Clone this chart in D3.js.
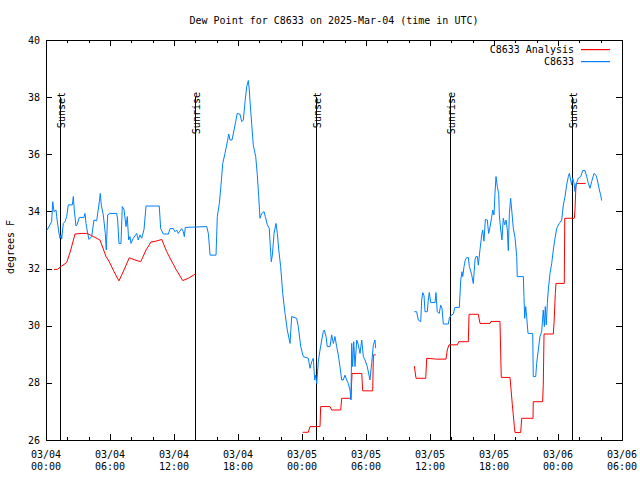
<!DOCTYPE html>
<html>
<head>
<meta charset="utf-8">
<script src="https://cdn.jsdelivr.net/npm/d3@7"></script>
<style>
  html, body { margin: 0; padding: 0; background: #fff; }
  svg { display: block; }
  text { font-family: "DejaVu Sans Mono", "Liberation Mono", monospace; font-size: 10px; fill: #000; }
</style>
</head>
<body>
<svg id="chart" width="640" height="480"></svg>
<script>
// ---------------- DATA ----------------
const chartTitle = "Dew Point for C8633 on 2025-Mar-04 (time in UTC)";
const yLabel = "degrees F";
const seriesNames = ["C8633 Analysis", "C8633"];
const seriesColors = ["#ff0000", "#0080ff"];
const startTime = Date.UTC(2025, 2, 4, 0, 0);   // 03/04 00:00 UTC
const endTime = Date.UTC(2025, 2, 6, 6, 0);     // 03/06 06:00 UTC
const yTicks = [26, 28, 30, 32, 34, 36, 38, 40];

// Sunrise / sunset events (hours after 03/04 00:00 UTC)
const sunLabels = ["Sunset", "Sunrise", "Sunset", "Sunrise", "Sunset"];
const sunHours = [1.31, 14.0, 25.31, 37.88, 49.31];

// Analysis series (hours after start, degrees F); null = gap
const analysisHours = [
  0.75,1.06,1.47,1.94,2.32,2.72,3.35,3.82,4.13,4.59,5.06,5.63,5.93,6.38,6.84,7.31,7.81,8.34,8.88,9.38,9.84,10.31,10.85,11.32,11.72,12.19,12.82,13.34,13.88,13.97,
  19.0,
  24.06,24.59,24.75,25.69,25.75,26.63,26.78,27.63,27.72,28.59,28.69,29.60,29.69,30.63,30.69,30.91,
  32.5,
  34.53,34.69,35.60,35.69,36.63,37.50,37.62,37.78,38.56,38.69,39.59,39.66,40.53,40.69,41.63,41.72,42.56,42.68,43.50,43.72,43.91,43.97,44.50,44.60,45.66,45.68,46.56,46.62,46.69,47.56,47.63,47.75,47.81,48.59,48.63,49.53,49.59,49.69,50.60
];
const analysisValues = [
  31.97,31.97,32.09,32.21,32.65,33.21,33.23,33.23,33.18,33.09,33.00,32.42,32.24,31.89,31.57,31.95,32.38,32.30,32.24,32.65,32.93,32.96,33.02,32.59,32.30,31.97,31.58,31.66,31.78,31.80,
  null,
  26.27,26.27,26.47,26.47,27.17,27.17,27.05,27.05,27.46,27.46,28.33,28.33,27.72,27.72,28.98,28.98,
  null,
  28.59,28.16,28.16,28.86,28.83,28.83,29.15,29.33,29.33,29.44,29.44,30.40,30.40,30.08,30.08,30.15,30.15,28.19,28.19,27.23,26.47,26.26,26.26,26.76,26.76,27.34,27.34,27.93,29.71,29.71,30.11,31.13,31.48,31.48,33.76,33.76,34.05,34.98,34.98
];

// Observed series (hours after start, degrees F); null = gap
const observedHours = [
  0.07,0.53,0.63,0.75,0.94,1.00,1.22,1.31,1.41,1.47,1.62,1.78,1.94,2.09,2.47,2.56,2.65,2.81,2.93,3.12,3.56,3.66,3.75,3.91,4.03,4.28,4.50,4.75,5.00,5.09,5.18,5.37,5.56,5.65,5.78,6.00,6.63,6.72,6.84,7.03,7.15,7.31,7.50,7.62,7.75,7.87,7.97,8.18,8.50,8.65,8.81,8.97,9.19,9.38,10.62,10.75,11.00,11.47,11.63,11.93,12.09,12.25,12.40,12.72,12.87,12.97,13.06,
  15.07,15.22,15.38,15.94,16.06,16.25,16.41,16.57,16.78,17.00,17.13,17.25,17.44,17.63,17.78,17.93,18.19,18.35,18.50,18.66,18.82,18.97,19.06,19.13,19.28,19.43,19.66,19.81,19.94,20.06,20.22,20.44,20.56,20.75,20.93,21.03,21.12,21.22,21.38,21.56,21.69,21.82,22.00,22.19,22.41,22.62,22.88,23.03,23.50,23.65,23.88,24.12,24.59,24.75,24.91,25.06,25.19,25.28,25.38,25.53,25.69,25.85,26.00,26.09,26.25,26.37,26.63,26.78,26.94,27.09,27.25,27.40,27.56,27.72,27.87,28.03,28.19,28.34,28.50,28.59,28.66,28.75,28.85,28.97,29.13,29.28,29.44,29.60,29.75,29.91,30.12,30.37,30.53,30.69,30.84,30.91,
  32.5,
  34.53,34.75,34.90,35.13,35.22,35.32,35.44,35.53,35.75,35.84,35.93,36.07,36.47,36.56,36.68,36.87,37.00,37.13,37.25,37.72,37.81,37.94,38.18,38.34,38.75,38.88,39.00,39.07,39.19,39.31,39.44,39.59,39.69,39.91,40.06,40.22,40.31,40.44,40.53,40.69,40.85,40.94,41.06,41.19,41.37,41.50,41.63,41.78,41.88,42.00,42.09,42.19,42.31,42.44,42.50,42.63,42.75,42.87,43.00,43.13,43.25,43.34,43.44,43.56,43.66,43.81,43.97,44.13,44.18,44.75,44.81,44.88,44.97,45.06,45.19,45.63,45.68,45.91,46.00,46.15,46.31,46.47,46.62,46.72,46.81,46.90,47.00,47.09,47.25,47.41,47.56,47.72,47.88,48.12,48.35,48.50,48.66,48.81,48.97,49.06,49.19,49.28,49.38,49.50,49.59,49.75,49.90,50.13,50.32,50.53,50.69,50.85,51.00,51.16,51.38,51.56,51.69,51.88,52.00,52.09
];
const observedValues = [
  33.33,33.64,34.34,33.99,34.05,33.82,33.23,33.06,33.18,33.03,33.58,33.64,33.82,34.23,34.23,34.52,34.05,33.49,33.55,33.79,33.79,33.93,33.58,33.23,33.02,33.12,33.70,33.67,34.34,34.63,34.23,33.88,33.23,32.65,33.88,33.93,33.93,33.70,32.88,32.88,34.17,34.08,33.47,33.82,33.00,33.12,32.88,33.06,33.23,33.00,33.18,33.06,33.37,34.19,34.19,33.40,33.21,33.21,33.40,33.40,33.29,33.35,33.23,33.40,33.29,33.12,33.44,
  33.47,33.23,32.47,32.47,33.82,34.28,34.93,35.68,36.03,36.44,36.71,36.50,36.50,36.85,37.14,37.43,37.40,37.14,37.20,37.84,38.37,38.58,38.25,37.84,37.08,36.33,35.92,35.28,34.52,33.76,33.93,33.99,33.82,33.53,33.41,32.77,32.24,32.47,33.23,33.58,33.23,32.65,32.07,31.13,30.43,29.85,29.38,30.32,30.26,29.97,29.27,28.92,28.86,28.51,28.74,28.86,28.10,28.27,27.98,28.74,29.15,29.50,29.79,29.85,29.62,29.27,29.27,29.68,29.38,29.62,29.27,28.98,28.57,28.10,28.10,28.27,28.10,27.98,27.75,27.40,29.38,28.57,29.44,28.57,29.50,29.33,29.03,29.50,28.92,28.80,28.57,28.10,28.68,29.33,29.50,29.21,
  null,
  30.49,30.49,30.20,30.14,30.90,31.16,31.05,30.49,30.49,30.90,31.16,30.81,30.81,31.16,30.49,30.43,30.72,30.60,30.06,30.06,30.26,30.35,30.41,30.64,30.64,31.60,31.89,31.72,32.07,32.30,32.39,32.39,32.07,31.78,31.48,32.30,32.42,32.42,32.12,32.67,33.18,33.35,32.96,33.72,33.70,33.23,33.46,33.79,34.05,33.88,34.63,35.22,34.87,34.63,33.88,33.35,33.00,33.76,33.53,33.70,33.35,32.63,33.93,34.46,34.05,33.41,33.09,32.42,31.72,31.72,31.02,30.26,30.67,30.32,29.73,29.73,28.22,28.22,28.68,29.15,29.62,29.79,30.55,29.97,30.67,30.03,30.78,31.25,31.83,32.18,32.65,33.06,33.41,33.58,33.70,34.23,34.52,34.93,35.22,35.33,35.10,34.93,35.16,35.00,34.70,35.00,35.16,35.22,35.43,35.43,35.22,34.98,34.81,35.05,35.33,35.27,35.10,34.75,34.58,34.38
];

// ---------------- CHART ----------------
const L = 46, R = 622, T = 40, B = 440;
const svg = d3.select("#chart");
const toDate = h => new Date(startTime + h * 3600e3);

const x = d3.scaleUtc().domain([new Date(startTime), new Date(endTime)]).range([L, R]);
const y = d3.scaleLinear().domain([26, 40]).range([B, T]);

// title
svg.append("text").attr("x", 334).attr("y", 24).attr("text-anchor", "middle").text(chartTitle);

// y-axis label
svg.append("text").attr("transform", "translate(14,247) rotate(-90)")
  .attr("text-anchor", "middle").text(yLabel);

const axes = svg.append("g").attr("shape-rendering", "crispEdges").style("stroke", "#000");

// x ticks: major every 6h, minor every 2h (bottom and top, inward)
const majorTicks = x.ticks(d3.utcHour.every(6));
const minorTicks = x.ticks(d3.utcHour.every(2)).filter(d => d.getUTCHours() % 6 !== 0);
majorTicks.forEach(d => {
  const px = Math.round(x(d)) + 0.5;
  axes.append("line").attr("x1", px).attr("x2", px).attr("y1", B).attr("y2", B - 6);
  axes.append("line").attr("x1", px).attr("x2", px).attr("y1", T).attr("y2", T + 6);
});
minorTicks.forEach(d => {
  const px = Math.round(x(d)) + 0.5;
  axes.append("line").attr("x1", px).attr("x2", px).attr("y1", B).attr("y2", B - 3);
  axes.append("line").attr("x1", px).attr("x2", px).attr("y1", T).attr("y2", T + 3);
});
// y ticks left and right
yTicks.forEach(v => {
  const py = Math.round(y(v)) + 0.5;
  axes.append("line").attr("x1", L).attr("x2", L + 6).attr("y1", py).attr("y2", py);
  axes.append("line").attr("x1", R).attr("x2", R - 6).attr("y1", py).attr("y2", py);
});

// tick labels
const fmtDate = d3.utcFormat("%m/%d"), fmtTime = d3.utcFormat("%H:%M");
majorTicks.forEach(d => {
  const t = svg.append("text").attr("text-anchor", "middle");
  t.append("tspan").attr("x", x(d)).attr("y", 458).text(fmtDate(d));
  t.append("tspan").attr("x", x(d)).attr("y", 470).text(fmtTime(d));
});
yTicks.forEach(v => {
  svg.append("text").attr("x", 40).attr("y", y(v) + 3.5).attr("text-anchor", "end").text(v);
});

// sunrise / sunset lines
sunHours.forEach((h, i) => {
  const px = Math.round(x(toDate(h))) + 0.5;
  axes.append("line").attr("x1", px).attr("x2", px).attr("y1", 97).attr("y2", B);
  svg.append("text")
    .attr("transform", `translate(${px + 1},92) rotate(-90)`)
    .attr("text-anchor", "end").attr("dy", "0.35em").text(sunLabels[i]);
});

// data lines
const line = d3.line()
  .defined(d => d.v !== null)
  .x(d => x(toDate(d.h)))
  .y(d => y(d.v));

const analysisData = analysisHours.map((h, i) => ({ h, v: analysisValues[i] }));
const observedData = observedHours.map((h, i) => ({ h, v: observedValues[i] }));

svg.append("path").datum(analysisData).attr("d", line)
  .style("fill", "none").style("stroke", seriesColors[0]).style("stroke-width", 1);
svg.append("path").datum(observedData).attr("d", line)
  .style("fill", "none").style("stroke", seriesColors[1]).style("stroke-width", 1);

// frame
axes.append("rect").attr("x", L + 0.5).attr("y", T + 0.5)
  .attr("width", R - L).attr("height", B - T).style("fill", "none");

// legend
const legend = svg.append("g");
seriesNames.forEach((name, i) => {
  const ly = 49.5 + i * 12;
  legend.append("text").attr("x", 574).attr("y", ly + 3.5).attr("text-anchor", "end").text(name);
  legend.append("rect").attr("x", 581).attr("y", ly - 0.5).attr("width", 29).attr("height", 1.2)
    .style("fill", seriesColors[i]).style("stroke", "none");
});
</script>
</body>
</html>
